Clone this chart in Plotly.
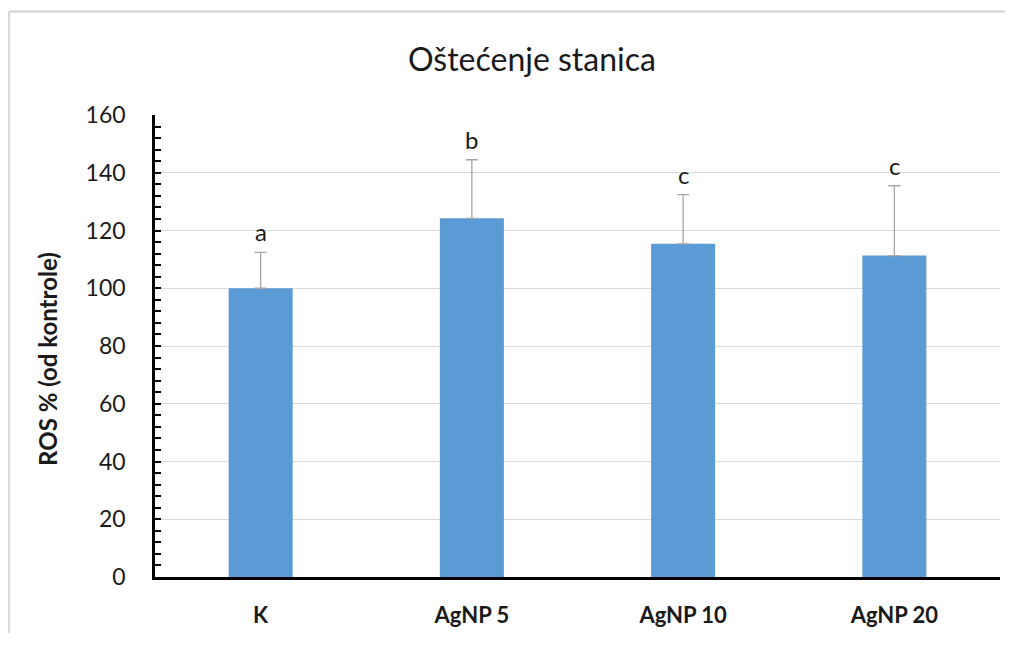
import plotly.graph_objects as go

categories = ["K", "AgNP 5", "AgNP 10", "AgNP 20"]
values = [100.0, 124.2, 115.4, 111.3]
errors_plus = [12.4, 20.3, 17.0, 24.2]
letters = ["a", "b", "c", "c"]
y_ticks = [0, 20, 40, 60, 80, 100, 120, 140, 160]

FONT = "Lato"
TXT = "#1a1a1a"

fig = go.Figure()
fig.add_trace(go.Bar(
    x=categories, y=values, width=0.303,
    marker=dict(color="#5b9bd5", line=dict(width=0)),
    error_y=dict(type="data", array=errors_plus, arrayminus=[0]*len(values),
                 symmetric=False, color="#a6a6a6", thickness=1.3, width=6),
    showlegend=False, hoverinfo="skip",
))

annotations = []
for c, v, e, L in zip(categories, values, errors_plus, letters):
    annotations.append(dict(x=c, y=v + e, xref="x", yref="y", text=L,
                            showarrow=False, yanchor="bottom", yshift=4,
                            font=dict(family=FONT, size=24, color=TXT)))
annotations.append(dict(x=(532 - 155) / 845, y=(579 - 58) / 464, xref="paper", yref="paper",
                        text="Oštećenje stanica", showarrow=False, xanchor="center", yanchor="middle",
                        font=dict(family=FONT, size=32, color=TXT)))
annotations.append(dict(x=(48 - 155) / 845, y=(579 - 360) / 464, xref="paper", yref="paper",
                        text="<b>ROS % (od kontrole)</b>", showarrow=False, textangle=-90,
                        xanchor="center", yanchor="middle",
                        font=dict(family=FONT, size=24, color=TXT)))

shapes = [
    dict(type="line", xref="paper", yref="paper", x0=(9 - 155) / 845, x1=(1013 - 155) / 845,
         y0=(579 - 11) / 464, y1=(579 - 11) / 464, line=dict(color="#d9d9d9", width=2.5)),
    dict(type="line", xref="paper", yref="paper", x0=(9 - 155) / 845, x1=(9 - 155) / 845,
         y0=(579 - 11) / 464, y1=-0.3, line=dict(color="#d9d9d9", width=2.5)),
]

fig.update_layout(
    width=997, height=625,
    margin=dict(l=147, r=5, t=107, b=54),
    paper_bgcolor="white", plot_bgcolor="white",
    bargap=0.7,
    annotations=annotations, shapes=shapes,
    font=dict(family=FONT, color=TXT),
)
fig.update_yaxes(
    range=[0, 160], tickvals=y_ticks, showgrid=True, gridcolor="#d9d9d9", gridwidth=1,
    zeroline=False, showline=True, linecolor="black", linewidth=2.5,
    ticks="inside", ticklen=6, tickwidth=2, tickcolor="black",
    minor=dict(dtick=4, ticks="inside", ticklen=6, tickwidth=2, tickcolor="black", showgrid=False),
    tickfont=dict(family=FONT, size=23, color=TXT), ticklabelstandoff=22,
)
fig.update_xaxes(
    showline=True, linecolor="black", linewidth=2.5, ticks="",
    tickfont=dict(family=FONT, size=22, color=TXT),
    tickprefix="<b>", ticksuffix="</b>", ticklabelstandoff=17,
)

fig.write_html("out.html", config={"displayModeBar": False})
